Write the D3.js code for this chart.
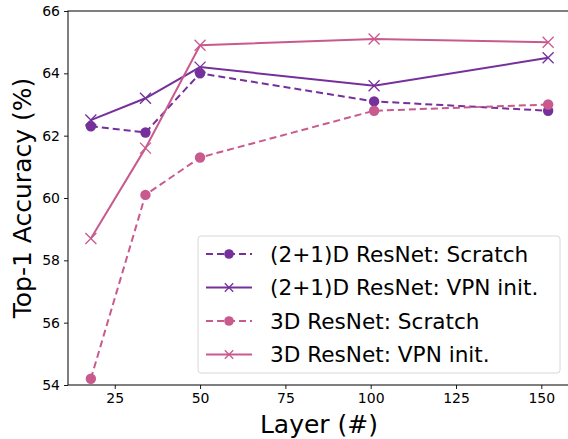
<!DOCTYPE html>
<html><head><meta charset="utf-8">
<script src="https://cdn.jsdelivr.net/npm/d3@7"></script>
<style>body{margin:0;background:#fff}svg{display:block;font-family:"DejaVu Sans",sans-serif}</style>
</head><body><svg id="c" width="568" height="439"></svg>
<script>
const layers = [18, 34, 50, 101, 152];
const r21Scratch = [62.3, 62.1, 64.0, 63.1, 62.8];
const r21VPN = [62.5, 63.2, 64.2, 63.6, 64.5];
const r3Scratch = [54.2, 60.1, 61.3, 62.8, 63.0];
const r3VPN = [58.7, 61.6, 64.9, 65.1, 65.0];
const seriesNames = ["(2+1)D ResNet: Scratch", "(2+1)D ResNet: VPN init.", "3D ResNet: Scratch", "3D ResNet: VPN init."];
const xTicks = [25, 50, 75, 100, 125, 150];
const yTicks = [54, 56, 58, 60, 62, 64, 66];

const purple = "#75309b", pink = "#c95a8d";
const series = [
  {name: seriesNames[0], vals: r21Scratch, color: purple, dash: "7,4", marker: "o"},
  {name: seriesNames[1], vals: r21VPN, color: purple, dash: null, marker: "x"},
  {name: seriesNames[2], vals: r3Scratch, color: pink, dash: "7,4", marker: "o"},
  {name: seriesNames[3], vals: r3VPN, color: pink, dash: null, marker: "x"}
];

const svg = d3.select("#c");
const L = 68, R = 571, T = 11, B = 385;
const x = d3.scaleLinear().domain([11.3, 158.7]).range([L, R]);
const y = d3.scaleLinear().domain([54, 66]).range([B, T]);

const xa = svg.append("g").attr("transform", `translate(0,${B})`)
  .call(d3.axisBottom(x).tickValues(xTicks).tickSize(4).tickPadding(4).tickSizeOuter(0));
const ya = svg.append("g").attr("transform", `translate(${L},0)`)
  .call(d3.axisLeft(y).tickValues(yTicks).tickSize(4).tickPadding(4).tickSizeOuter(0));
[xa, ya].forEach(a => {
  a.selectAll("text").attr("font-size", 14).attr("fill", "#000").attr("font-family", "DejaVu Sans");
  a.selectAll("line").attr("stroke", "#000").attr("stroke-width", 0.9);
  a.select(".domain").remove();
});
svg.append("rect").attr("x", L).attr("y", T).attr("width", R - L).attr("height", B - T)
  .attr("fill", "none").attr("stroke", "#000").attr("stroke-width", 1);

const line = d3.line().x((d, i) => x(layers[i])).y(d => y(d));
function marker(g, type, cx, cy, color, s) {
  if (type === "o") {
    g.append("circle").attr("cx", cx).attr("cy", cy).attr("r", s).attr("fill", color);
  } else {
    g.append("path").attr("d", `M${cx - s},${cy - s}L${cx + s},${cy + s}M${cx - s},${cy + s}L${cx + s},${cy - s}`)
      .attr("stroke", color).attr("stroke-width", 1.3).attr("fill", "none");
  }
}
const plot = svg.append("g");
series.forEach(s => {
  plot.append("path").datum(s.vals).attr("d", line).attr("fill", "none")
    .attr("stroke", s.color).attr("stroke-width", 2)
    .attr("stroke-dasharray", s.dash);
  s.vals.forEach((v, i) => marker(plot, s.marker, x(layers[i]), y(v), s.color, s.marker === "o" ? 5.2 : 5.5));
});

const lg = svg.append("g");
lg.append("rect").attr("x", 198).attr("y", 236).attr("width", 362).attr("height", 137)
  .attr("rx", 3).attr("fill", "#fff").attr("fill-opacity", 0.8).attr("stroke", "#d8d8d8").attr("stroke-width", 1);
series.forEach((s, i) => {
  const yy = 254 + i * 33.5;
  lg.append("line").attr("x1", 206).attr("x2", 252).attr("y1", yy).attr("y2", yy)
    .attr("stroke", s.color).attr("stroke-width", 2).attr("stroke-dasharray", s.dash ? "7,4" : null);
  marker(lg, s.marker, 229, yy, s.color, s.marker === "o" ? 4.8 : 4.2);
  lg.append("text").attr("x", 270).attr("y", yy + 7.5).attr("font-size", 21.6).attr("fill", "#000").text(s.name);
});

svg.append("text").attr("x", 319).attr("y", 433).attr("text-anchor", "middle")
  .attr("font-size", 25).attr("fill", "#000").text("Layer (#)");
svg.append("text").attr("transform", `translate(31,${(T + B) / 2}) rotate(-90)`).attr("text-anchor", "middle")
  .attr("font-size", 25).attr("fill", "#000").text("Top-1 Accuracy (%)");
</script></body></html>
